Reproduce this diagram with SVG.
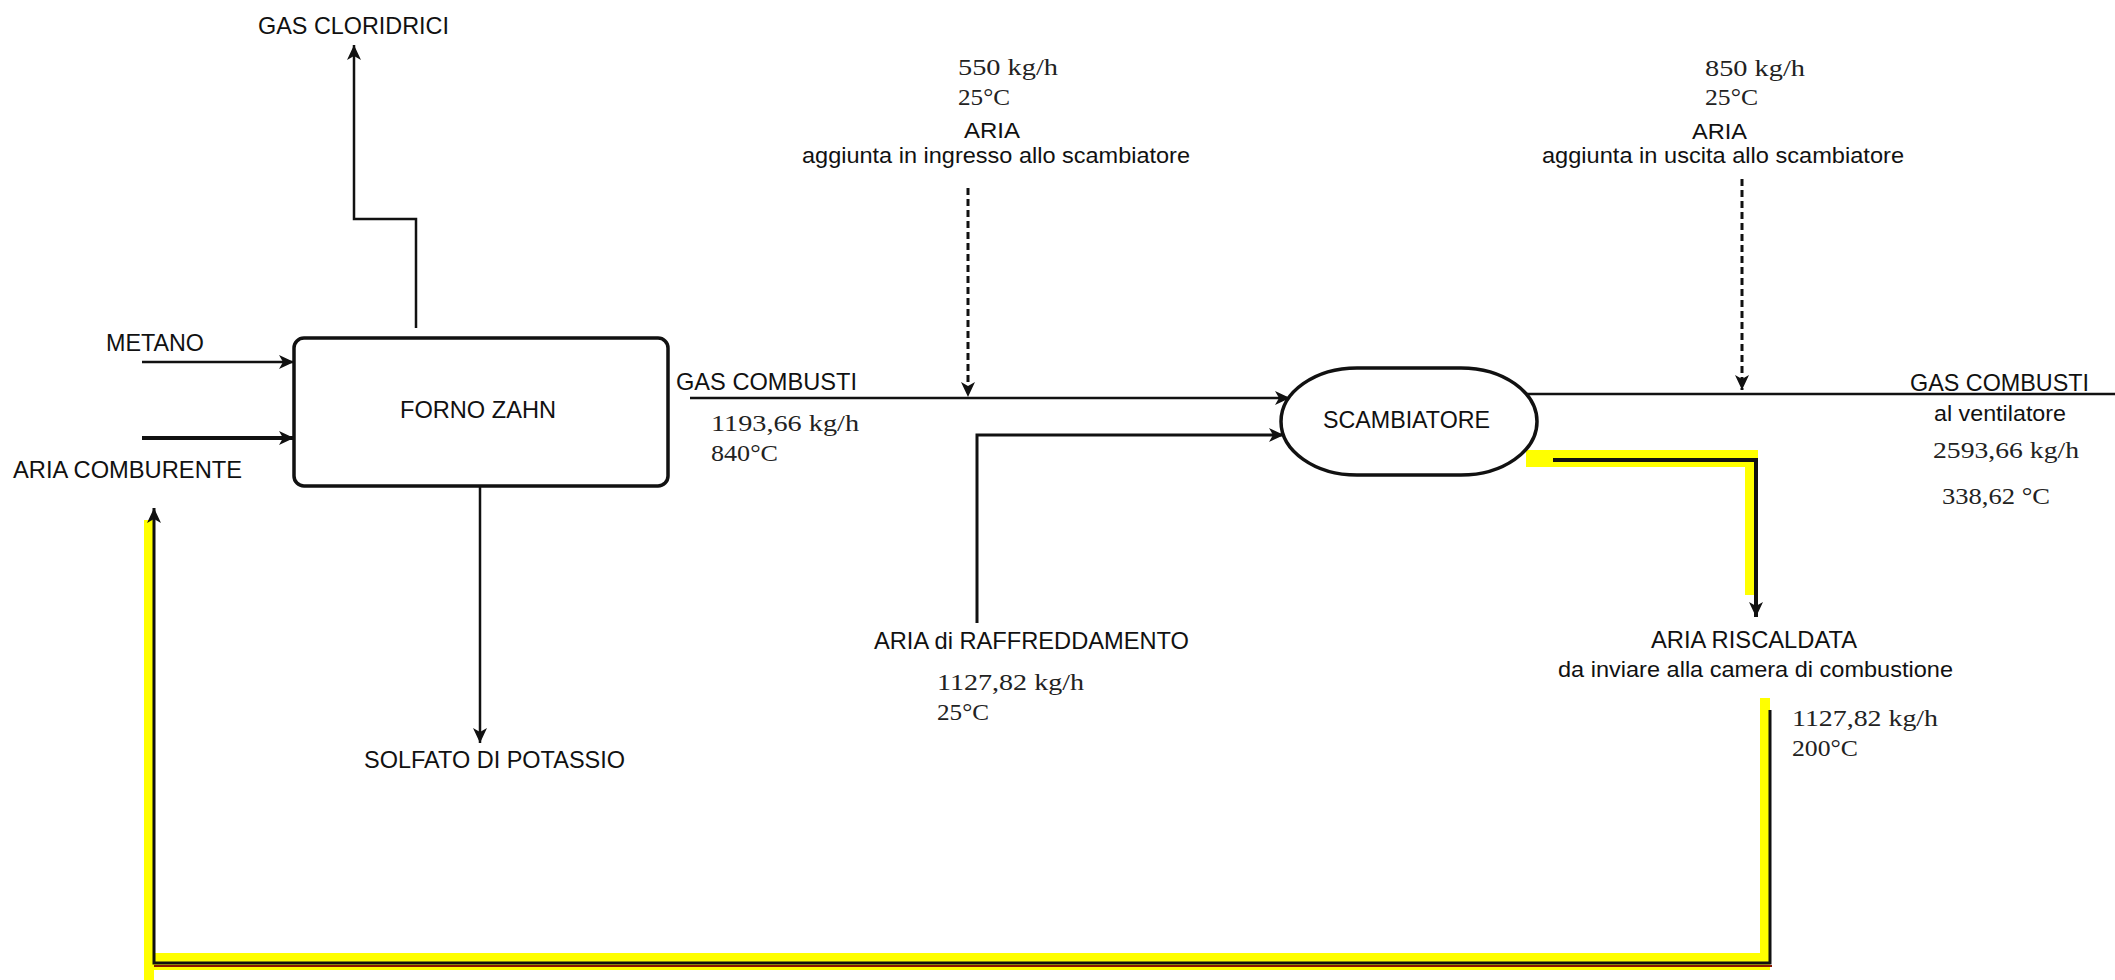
<svg xmlns="http://www.w3.org/2000/svg" width="2115" height="980" viewBox="0 0 2115 980">
<style>
.s{font-family:"Liberation Sans",Arial,sans-serif;fill:#111}
.big{font-size:24px}
.sub{font-size:22px}
.n{font-family:"Liberation Serif","Times New Roman",serif;font-size:24px;fill:#222}
.ln{fill:none;stroke:#111;stroke-width:2.5}
.dash{fill:none;stroke:#111;stroke-width:3;stroke-dasharray:7 4}
.hl{fill:#ffff00;stroke:none}
</style>
<defs>
<marker id="arr" markerUnits="userSpaceOnUse" markerWidth="16" markerHeight="14" refX="15" refY="7" orient="auto">
<path d="M0,0 L15,7 L0,14 L4,7 z" fill="#111"/>
</marker>
</defs>
<rect width="2115" height="980" fill="#fff"/>

<g id="highlights">
<rect class="hl" x="1526" y="450" width="232" height="17"/>
<rect class="hl" x="1745" y="450" width="12" height="145"/>
<rect class="hl" x="1760" y="698" width="10" height="268"/>
<rect class="hl" x="144" y="953" width="1626" height="17"/>
<rect class="hl" x="144" y="520" width="10" height="460"/>
</g>

<g id="connectors">
<path class="ln" d="M416,328 V219 H354 V45" marker-end="url(#arr)"/>
<path class="ln" d="M142,362 H294" marker-end="url(#arr)"/>
<path class="ln" style="stroke-width:4" d="M142,438 H294" marker-end="url(#arr)"/>
<path class="ln" d="M480,486 V743" marker-end="url(#arr)"/>
<path class="ln" d="M690,398 H1290" marker-end="url(#arr)"/>
<path class="dash" d="M968,188 V397" marker-end="url(#arr)"/>
<path class="ln" style="stroke-width:3" d="M977,623 V435 H1284" marker-end="url(#arr)"/>
<path class="ln" d="M1526,394 H2115"/>
<path class="dash" d="M1742,179 V390" marker-end="url(#arr)"/>
<path class="ln" style="stroke-width:4" d="M1553,460 H1756 V617" marker-end="url(#arr)"/>
<path fill="none" stroke="#8a1a00" stroke-width="2" d="M154,966 H1772"/>
<path class="ln" style="stroke-width:3" d="M1770,710 V963 H154 V508" marker-end="url(#arr)"/>
</g>

<g id="forno">
<rect x="294" y="338" width="374" height="148" rx="10" fill="#fff" stroke="#111" stroke-width="3.5"/>
<text class="s big" x="400" y="418" textLength="156" lengthAdjust="spacingAndGlyphs">FORNO ZAHN</text>
</g>

<g id="scambiatore">
<rect x="1281" y="368" width="256" height="107" rx="76" ry="53.5" fill="#fff" stroke="#111" stroke-width="3.5"/>
<text class="s big" x="1323" y="428" textLength="167" lengthAdjust="spacingAndGlyphs">SCAMBIATORE</text>
</g>

<g id="labels">
<text class="s big" x="258" y="34" textLength="191" lengthAdjust="spacingAndGlyphs">GAS CLORIDRICI</text>
<text class="s big" x="106" y="351" textLength="98" lengthAdjust="spacingAndGlyphs">METANO</text>
<text class="s big" x="13" y="478" textLength="229" lengthAdjust="spacingAndGlyphs">ARIA COMBURENTE</text>
<text class="s big" x="364" y="768" textLength="261" lengthAdjust="spacingAndGlyphs">SOLFATO DI POTASSIO</text>

<text class="s big" x="676" y="390" textLength="181" lengthAdjust="spacingAndGlyphs">GAS COMBUSTI</text>
<text class="n" x="711" y="431" textLength="148" lengthAdjust="spacingAndGlyphs">1193,66 kg/h</text>
<text class="n" x="711" y="461" textLength="67" lengthAdjust="spacingAndGlyphs">840°C</text>

<text class="n" x="958" y="75" textLength="100" lengthAdjust="spacingAndGlyphs">550 kg/h</text>
<text class="n" x="958" y="105" textLength="52" lengthAdjust="spacingAndGlyphs">25°C</text>
<text class="s sub" x="964" y="138" textLength="56" lengthAdjust="spacingAndGlyphs">ARIA</text>
<text class="s sub" x="802" y="163" textLength="388" lengthAdjust="spacingAndGlyphs">aggiunta in ingresso allo scambiatore</text>

<text class="s big" x="874" y="649" textLength="315" lengthAdjust="spacingAndGlyphs">ARIA di RAFFREDDAMENTO</text>
<text class="n" x="937" y="690" textLength="147" lengthAdjust="spacingAndGlyphs">1127,82 kg/h</text>
<text class="n" x="937" y="720" textLength="52" lengthAdjust="spacingAndGlyphs">25°C</text>

<text class="n" x="1705" y="76" textLength="100" lengthAdjust="spacingAndGlyphs">850 kg/h</text>
<text class="n" x="1705" y="105" textLength="53" lengthAdjust="spacingAndGlyphs">25°C</text>
<text class="s sub" x="1692" y="139" textLength="55" lengthAdjust="spacingAndGlyphs">ARIA</text>
<text class="s sub" x="1542" y="163" textLength="362" lengthAdjust="spacingAndGlyphs">aggiunta in uscita allo scambiatore</text>

<text class="s big" x="1910" y="391" textLength="179" lengthAdjust="spacingAndGlyphs">GAS COMBUSTI</text>
<text class="s sub" x="1934" y="421" textLength="132" lengthAdjust="spacingAndGlyphs">al ventilatore</text>
<text class="n" x="1933" y="458" textLength="146" lengthAdjust="spacingAndGlyphs">2593,66 kg/h</text>
<text class="n" x="1942" y="504" textLength="108" lengthAdjust="spacingAndGlyphs">338,62 °C</text>

<text class="s big" x="1651" y="648" textLength="206" lengthAdjust="spacingAndGlyphs">ARIA RISCALDATA</text>
<text class="s sub" x="1558" y="677" textLength="395" lengthAdjust="spacingAndGlyphs">da inviare alla camera di combustione</text>
<text class="n" x="1792" y="726" textLength="146" lengthAdjust="spacingAndGlyphs">1127,82 kg/h</text>
<text class="n" x="1792" y="756" textLength="66" lengthAdjust="spacingAndGlyphs">200°C</text>
</g>
</svg>
